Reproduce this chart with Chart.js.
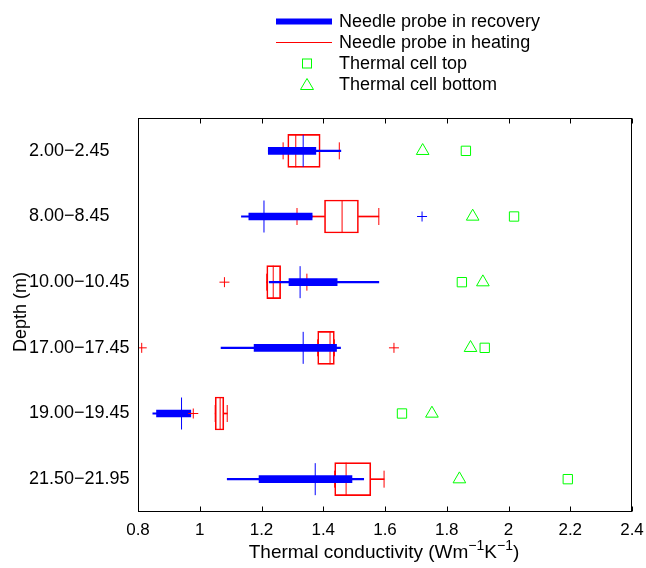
<!DOCTYPE html>
<html>
<head>
<meta charset="utf-8">
<script src="https://cdn.jsdelivr.net/npm/chart.js@4.4.0/dist/chart.umd.min.js"></script>
<style>
  body { margin: 0; background: #fff; font-family: "Liberation Sans", Arial, sans-serif; color: #000; }
  #wrap { position: relative; width: 646px; height: 568px; }
  #thermal-chart { position: absolute; left: 0; top: 0; }
  .legend-row { position: absolute; left: 276px; height: 21px; line-height: 21px; display: flex; align-items: center; font-size: 18px; white-space: nowrap; }
  .legend-row svg { width: 56px; height: 21px; margin-right: 7px; flex: none; }
  #x-title { position: absolute; left: 134px; width: 500px; top: 540px; line-height: 23px; text-align: center; font-size: 19px; white-space: nowrap; }
  #x-title sup { font-size: 14px; line-height: 0; vertical-align: 8px; }
  #y-title { position: absolute; left: 20px; top: 312px; transform: translate(-50%, -50%) rotate(-90deg); font-size: 18px; line-height: 22px; white-space: nowrap; }
</style>
</head>
<body>
<div id="wrap">
  <canvas id="thermal-chart" width="646" height="568"></canvas>

  <div class="legend-row" style="top: 10.5px;">
    <svg viewBox="0 0 56 21"><line x1="0" y1="10.5" x2="56" y2="10.5" stroke="#0000ff" stroke-width="6"/></svg>Needle probe in recovery
  </div>
  <div class="legend-row" style="top: 31.5px;">
    <svg viewBox="0 0 56 21"><line x1="0" y1="10.5" x2="56" y2="10.5" stroke="#ff0000" stroke-width="1"/></svg>Needle probe in heating
  </div>
  <div class="legend-row" style="top: 52.5px;">
    <svg viewBox="0 0 56 21"><rect x="26.5" y="6" width="9" height="9" fill="none" stroke="#00ff00" stroke-width="1"/></svg>Thermal cell top
  </div>
  <div class="legend-row" style="top: 73.5px;">
    <svg viewBox="0 0 56 21"><polygon points="31,4.5 37.5,15.5 24.5,15.5" fill="none" stroke="#00ff00" stroke-width="1"/></svg>Thermal cell bottom
  </div>

  <div id="y-title">Depth (m)</div>
  <div id="x-title">Thermal conductivity (Wm<sup>−1</sup>K<sup>−1</sup>)</div>
</div>

<script>
// Depth intervals and x axis ticks
const depthLabels = ["2.00−2.45", "8.00−8.45", "10.00−10.45", "17.00−17.45", "19.00−19.45", "21.50−21.95"];
const xTickValues = [0.8, 1, 1.2, 1.4, 1.6, 1.8, 2, 2.2, 2.4];

// Needle probe in recovery (blue boxes)
const recoveryLow = [1.222, 1.135, 1.225, 1.069, 0.848, 1.089];
const recoveryQ1 = [1.222, 1.159, 1.289, 1.176, 0.860, 1.192];
const recoveryMedian = [1.335, 1.208, 1.325, 1.335, 0.941, 1.374];
const recoveryQ3 = [1.376, 1.364, 1.445, 1.443, 0.971, 1.493];
const recoveryHigh = [1.457, 1.364, 1.580, 1.456, 0.971, 1.531];
const recoveryOutliers = [[], [1.72], [], [], [], []];

// Needle probe in heating (red boxes)
const heatingLow = [1.270, 1.315, 1.217, 1.382, 1.050, 1.437];
const heatingQ1 = [1.285, 1.404, 1.217, 1.382, 1.050, 1.437];
const heatingMedian = [1.311, 1.461, 1.238, 1.422, 1.066, 1.474];
const heatingQ3 = [1.390, 1.514, 1.262, 1.436, 1.078, 1.554];
const heatingHigh = [1.452, 1.580, 1.347, 1.436, 1.089, 1.597];
const heatingOutliers = [[], [], [1.080], [0.812, 1.629], [0.979], []];

// Thermal cell measurements
const cellTop = [1.862, 2.018, 1.849, 1.923, 1.655, 2.192];
const cellBottom = [1.722, 1.884, 1.917, 1.877, 1.752, 1.841];

Chart.defaults.font.family = '"Liberation Sans", Arial, sans-serif';
Chart.defaults.color = "#000";

const BLUE = "#0000ff";
const RED = "#ff0000";
const GREEN = "#00ff00";

const ranges = (a, b) => depthLabels.map((_, i) => [a[i], b[i]]);
const points = (vals) => depthLabels.map((d, i) => ({ x: vals[i], y: d }));
const outlierPoints = (lists) => lists.flatMap((list, i) => list.map(v => ({ x: v, y: depthLabels[i] })));

function barSet(data, color, thickness, order, extra) {
  return Object.assign({
    type: "bar",
    data: data,
    backgroundColor: color,
    borderWidth: 0,
    barThickness: thickness,
    grouped: false,
    order: order
  }, extra || {});
}

function pointSet(data, style, radius, color, order, rotation) {
  return {
    type: "scatter",
    data: data,
    pointStyle: style,
    pointRadius: radius,
    pointRotation: rotation || 0,
    pointBorderColor: color,
    pointBackgroundColor: "rgba(0,0,0,0)",
    pointBorderWidth: 1,
    order: order
  };
}

// Frame around the plot with inward ticks on top and bottom
const frameTicks = {
  id: "frameTicks",
  afterDraw(chart) {
    const { ctx, scales: { x, y } } = chart;
    const left = Math.round(x.getPixelForValue(xTickValues[0])) + 0.5;
    const right = Math.round(x.getPixelForValue(xTickValues[xTickValues.length - 1])) - 0.5;
    const top = Math.round(y.top) + 0.5;
    const bottom = Math.round(y.bottom) - 0.5;
    ctx.save();
    ctx.strokeStyle = "#000";
    ctx.lineWidth = 1;
    ctx.strokeRect(left, top, right - left, bottom - top);
    ctx.beginPath();
    xTickValues.forEach(v => {
      const px = Math.round(x.getPixelForValue(v)) + 0.5;
      ctx.moveTo(px, bottom);
      ctx.lineTo(px, bottom - 5);
      ctx.moveTo(px, top);
      ctx.lineTo(px, top + 5);
    });
    ctx.stroke();
    ctx.restore();
  }
};

const ctx = document.getElementById("thermal-chart").getContext("2d");

new Chart(ctx, {
  type: "bar",
  data: {
    labels: depthLabels,
    datasets: [
      // heating: whiskers, box, median, caps
      barSet(ranges(heatingLow, heatingQ1), RED, 1, 9),
      barSet(ranges(heatingQ3, heatingHigh), RED, 1, 9),
      barSet(ranges(heatingQ1, heatingQ3), "rgba(0,0,0,0)", 33, 8, { borderColor: RED, borderWidth: 1, borderSkipped: false }),
      pointSet(points(heatingMedian), "line", 16.5, RED, 7, 90),
      pointSet(points(heatingLow), "line", 8.5, RED, 6, 90),
      pointSet(points(heatingHigh), "line", 8.5, RED, 6, 90),
      // recovery: whisker line, thick box, median
      barSet(ranges(recoveryLow, recoveryHigh), BLUE, 1.5, 5),
      barSet(ranges(recoveryQ1, recoveryQ3), BLUE, 7, 4),
      pointSet(points(recoveryMedian), "line", 16, BLUE, 3, 90),
      // outliers and thermal cell
      pointSet(outlierPoints(heatingOutliers), "cross", 5, RED, 2),
      pointSet(outlierPoints(recoveryOutliers), "cross", 5, BLUE, 2),
      pointSet(points(cellTop), "rect", 6.6, GREEN, 1),
      pointSet(points(cellBottom), "triangle", 7.3, GREEN, 1)
    ]
  },
  options: {
    indexAxis: "y",
    responsive: false,
    animation: false,
    events: [],
    layout: { autoPadding: false, padding: { top: 118, right: 14, left: 29, bottom: 0 } },
    plugins: {
      legend: { display: false },
      tooltip: { enabled: false }
    },
    scales: {
      x: {
        type: "linear",
        min: 0.8,
        max: 2.4,
        afterBuildTicks: (scale) => { scale.ticks = xTickValues.map(v => ({ value: v })); },
        afterFit: (scale) => {
          scale.height = 56;
          scale.paddingLeft = 0;
          scale.paddingRight = 0;
        },
        grid: { display: false, drawTicks: false },
        border: { display: false },
        ticks: { color: "#000", font: { size: 17 }, padding: 8, maxRotation: 0, autoSkip: false, callback: (v) => String(v) }
      },
      y: {
        type: "category",
        offset: true,
        afterFit: (scale) => { scale.width = 109; },
        grid: { display: false, drawTicks: false },
        border: { display: false },
        ticks: { color: "#000", font: { size: 18 }, crossAlign: "far", padding: 0 }
      }
    }
  },
  plugins: [frameTicks]
});
</script>
</body>
</html>
